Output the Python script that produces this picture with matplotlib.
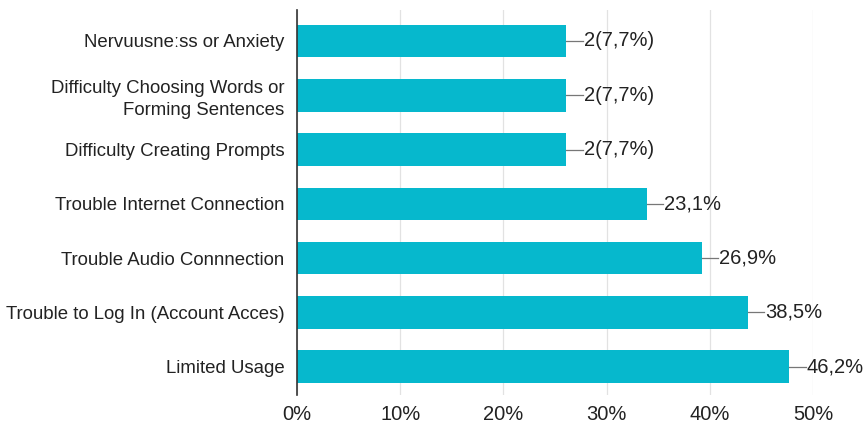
import matplotlib.pyplot as plt

plt.rcParams['font.family'] = ['Liberation Sans', 'DejaVu Sans']

# categories, top to bottom
categories = [
    "Nervuusneːss or Anxiety",
    "Difficulty Choosing Words or\nForming Sentences",
    "Difficulty Creating Prompts",
    "Trouble Internet Connection",
    "Trouble Audio Connnection",
    "Trouble to Log In (Account Acces)",
    "Limited Usage",
]
# bar lengths as drawn (percent)
bar_values = [26.1, 26.1, 26.1, 33.9, 39.2, 43.7, 47.7]
# the value labels printed next to the bars
value_labels = ["2(7,7%)", "2(7,7%)", "2(7,7%)", "23,1%", "26,9%", "38,5%", "46,2%"]
xticks = [0, 10, 20, 30, 40, 50]

fig = plt.figure(figsize=(8.64, 4.25), dpi=100)
ax = fig.add_axes([297 / 864, 30 / 425, 516 / 864, 385 / 425])

ypos = list(range(len(categories)))
ax.barh(ypos, bar_values, height=0.6, color='#06b8cd', zorder=2)

# value labels with a short leader line
for y, v, lab in zip(ypos, bar_values, value_labels):
    ax.plot([v, v + 1.6], [y, y], color='#777777', lw=0.9, zorder=3, clip_on=False)
    ax.text(v + 1.7, y, lab, va='center', ha='left', fontsize=14.5, color='#222222')

ax.set_yticks(ypos)
ax.set_yticklabels(categories, fontsize=13.4, color='#222222', ha='right',
                   linespacing=1.35)
ax.set_ylim(6.52, -0.57)
ax.set_xlim(0, 50)
ax.set_xticks(xticks)
ax.set_xticklabels([f"{t}%" for t in xticks], fontsize=14.5, color='#222222')
ax.tick_params(axis='both', length=0)
ax.tick_params(axis='y', pad=9)
ax.tick_params(axis='x', pad=7)

ax.grid(axis='x', color='#e2e2e2', lw=0.9, zorder=0)
for s in ['top', 'right', 'bottom']:
    ax.spines[s].set_visible(False)
ax.spines['left'].set_color('#333333')
ax.spines['left'].set_linewidth(1.2)

fig.savefig('out.png', dpi=100)
